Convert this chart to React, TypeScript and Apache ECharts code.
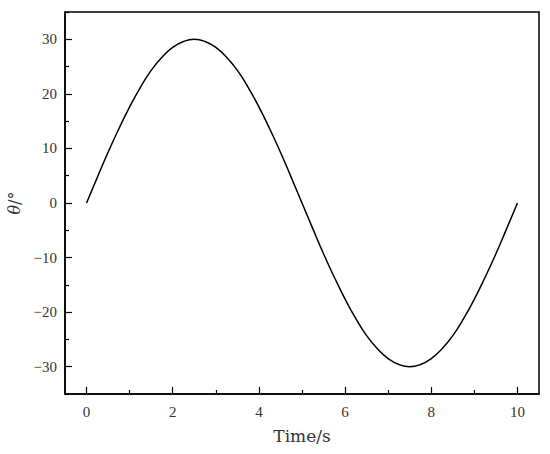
import React, { useEffect, useRef } from "react";
import * as echarts from "echarts";

const timeValues: number[] = [
  0, 0.25, 0.5, 0.75, 1, 1.25, 1.5, 1.75, 2, 2.25, 2.5, 2.75, 3, 3.25, 3.5, 3.75, 4, 4.25, 4.5, 4.75,
  5, 5.25, 5.5, 5.75, 6, 6.25, 6.5, 6.75, 7, 7.25, 7.5, 7.75, 8, 8.25, 8.5, 8.75, 9, 9.25, 9.5, 9.75, 10,
];
const thetaValues: number[] = [
  0, 4.7, 9.3, 13.6, 17.6, 21.2, 24.3, 26.7, 28.5, 29.6, 30, 29.6, 28.5, 26.7, 24.3, 21.2, 17.6, 13.6, 9.3, 4.7,
  0, -4.7, -9.3, -13.6, -17.6, -21.2, -24.3, -26.7, -28.5, -29.6, -30, -29.6, -28.5, -26.7, -24.3, -21.2, -17.6, -13.6, -9.3, -4.7,
  0,
];
const xMajorTicks: number[] = [0, 2, 4, 6, 8, 10];
const xMinorTicks: number[] = [1, 3, 5, 7, 9];
const yMajorTicks: number[] = [-30, -20, -10, 0, 10, 20, 30];
const yMinorTicks: number[] = [-35, -25, -15, -5, 5, 15, 25, 35];

const labelFont = "Liberation Serif";
const nameFont = "DejaVu Serif";

export default function App() {
  const ref = useRef<HTMLDivElement>(null);
  useEffect(() => {
    if (!ref.current) return;
    const chart = echarts.init(ref.current, undefined, { renderer: "svg" });
    const data = timeValues.map((t, i) => [t, thetaValues[i]]);
    const fmt = (v: number) => String(v).replace("-", "\u2212");
    chart.setOption({
      animation: false,
      backgroundColor: "#fff",
      grid: {
        left: 65,
        top: 12,
        right: 11,
        bottom: 60,
        show: true,
        borderColor: "#000",
        borderWidth: 1.5,
        containLabel: false,
        outerBoundsMode: "none",
      },
      xAxis: [
        {
          type: "value",
          min: -0.5,
          max: 10.5,
          position: "bottom",
          name: "Time/s",
          nameLocation: "middle",
          nameGap: 33,
          nameTextStyle: { fontFamily: nameFont, fontSize: 17, color: "#333" },
          axisLine: { show: true, onZero: false, lineStyle: { color: "#000", width: 1.5 } },
          axisTick: { show: true, inside: true, length: 7, customValues: xMajorTicks, lineStyle: { color: "#000", width: 1.2 } },
          axisLabel: { show: true, customValues: xMajorTicks, margin: 10, fontFamily: labelFont, fontSize: 15, color: "#333", formatter: fmt },
          splitLine: { show: false },
        },
        {
          type: "value",
          min: -0.5,
          max: 10.5,
          position: "bottom",
          axisLine: { show: false, onZero: false },
          axisTick: { show: true, inside: true, length: 4, customValues: xMinorTicks, lineStyle: { color: "#000", width: 1.2 } },
          axisLabel: { show: false },
          splitLine: { show: false },
        },
      ],
      yAxis: [
        {
          type: "value",
          min: -35,
          max: 35,
          position: "left",
          name: "{i|θ}/°",
          nameLocation: "middle",
          nameGap: 42,
          nameTextStyle: {
            fontFamily: nameFont,
            fontSize: 16,
            lineHeight: 16,
            color: "#333",
            rich: { i: { fontFamily: nameFont, fontSize: 16, lineHeight: 16, fontStyle: "italic", color: "#333" } },
          },
          axisLine: { show: true, onZero: false, lineStyle: { color: "#000", width: 1.5 } },
          axisTick: { show: true, inside: true, length: 7, customValues: yMajorTicks, lineStyle: { color: "#000", width: 1.2 } },
          axisLabel: { show: true, customValues: yMajorTicks, margin: 8, fontFamily: labelFont, fontSize: 15, color: "#333", formatter: fmt },
          splitLine: { show: false },
        },
        {
          type: "value",
          min: -35,
          max: 35,
          position: "left",
          axisLine: { show: false, onZero: false },
          axisTick: { show: true, inside: true, length: 4, customValues: yMinorTicks, lineStyle: { color: "#000", width: 1.2 } },
          axisLabel: { show: false },
          splitLine: { show: false },
        },
      ],
      series: [
        {
          type: "line",
          xAxisIndex: 0,
          yAxisIndex: 0,
          data,
          showSymbol: false,
          smooth: true,
          lineStyle: { color: "#000", width: 1.5 },
        },
      ],
    });
    return () => chart.dispose();
  }, []);
  return <div ref={ref} style={{ position: "absolute", left: 0, top: 0, width: 550, height: 454 }} />;
}
